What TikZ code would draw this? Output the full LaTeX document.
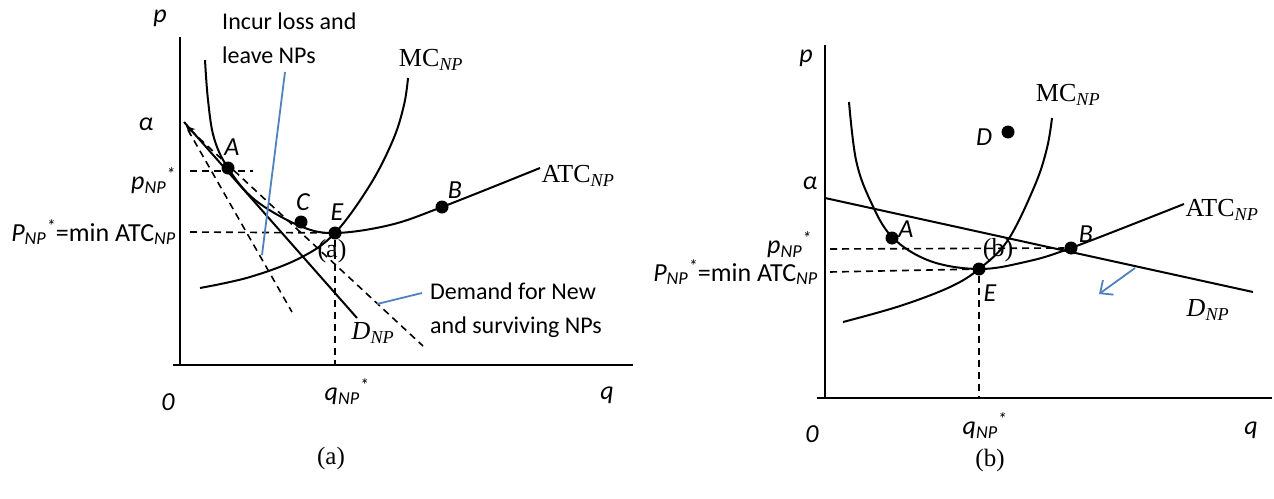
\documentclass[tikz,border=0pt]{standalone}
\usepackage{fontspec}
\setmainfont{Carlito}
\newfontfamily\tnr{Liberation Serif}
\usetikzlibrary{arrows.meta}
\definecolor{ptrblue}{HTML}{4F81BD}
\newcommand{\npsub}{\textsubscript{\textit{NP}}}

\tikzset{
  axis/.style={line width=2pt},
  curve/.style={line width=2pt},
  guide/.style={line width=1.6pt, dash pattern=on 7pt off 5pt},
  pointer/.style={ptrblue, line width=1.8pt},
  dot/.style={circle, fill=black, inner sep=0pt, minimum size=13pt},
  lbl/.style={inner sep=0pt, font=\fontsize{26}{30}\selectfont\itshape},
  note/.style={inner sep=0pt, align=left, font=\fontsize{24}{34}\selectfont},
  tlbl/.style={inner sep=0pt, font=\tnr\fontsize{26}{30}\selectfont},
  caption/.style={inner sep=0pt, font=\tnr\fontsize{25}{28}\selectfont}
}

\begin{document}
\begin{tikzpicture}[x=1pt, y=-1pt]
\useasboundingbox (0,0) rectangle (1274,498);

% ---- panel (a)
\coordinate (aTop) at (180,37);
\coordinate (aO) at (180,366);
\coordinate (aXs) at (173,365);
\coordinate (aXe) at (633,365);
\draw[axis] (aTop) -- (aO);
\draw[axis] (aXs) -- (aXe);

\node[dot] (aA) at (228,168) {};
\node[dot] (aC) at (301,222) {};
\node[dot] (aE) at (335,233) {};
\node[dot] (aB) at (442,207) {};

% cost curves
\draw[curve] plot[smooth, tension=0.6] coordinates
  {(205,60) (208,100) (214,138) (228,168) (255,200) (300,226) (335,233) (390,225) (442,207) (540,168)};
\draw[curve] plot[smooth, tension=0.6] coordinates
  {(200,288) (250,277) (300,258) (335,233) (370,185) (393,140) (404,105) (408,78)};

% demand lines
\coordinate (aD1) at (184,122);
\coordinate (aD2) at (357,318);
\coordinate (aS1) at (188,130);
\coordinate (aS2) at (292,312);
\coordinate (aN1) at (186,126);
\coordinate (aN2) at (423,346);
\draw[curve] (aD1) -- (aD2);
\draw[guide] (aS1) -- (aS2);
\draw[guide, {Stealth[length=9pt,width=8pt]}-] (aN1) -- (aN2);

% guides
\coordinate (aG1) at (190,171);
\coordinate (aG2) at (253,171);
\coordinate (aG3) at (190,232);
\coordinate (aQ) at (335,365);
\draw[guide] (aG1) -- (aG2);
\draw[guide] (aG3) -- (aE);
\draw[guide] (aE) -- (aQ);

% notes
\node[note, anchor=west] (aLoss) at (222,38) {Incur loss and\\leave NPs};
\node[note, anchor=west] (aNew) at (430,310) {Demand for New\\and surviving NPs};
\coordinate (aP1) at (285,72);
\coordinate (aP2) at (262,255);
\coordinate (aP3) at (422,293);
\coordinate (aP4) at (377,304);
\draw[pointer] (aP1) -- (aP2);
\draw[pointer] (aP3) -- (aP4);

% labels
\node[lbl] (apL) at (160,18) {p};
\node[lbl] (aalL) at (146,124) {α};
\node[lbl] (a0L) at (168,402) {0};
\node[lbl] (aqL) at (607,395) {q};
\node[lbl] (aqsL) at (347,392) {q\npsub\textsuperscript{*}};
\node[lbl, anchor=east] (apsL) at (176,181) {p\npsub\textsuperscript{*}};
\node[lbl, anchor=east] (aPmL) at (176,232) {P\npsub\textsuperscript{*}\upshape =min ATC\npsub};
\node[lbl] (aAL) at (232,147) {A};
\node[lbl] (aCL) at (303,202) {C};
\node[lbl] (aEL) at (337,212) {E};
\node[lbl] (aBL) at (455,190) {B};
\node[tlbl] (aMCL) at (431,60) {MC\textsubscript{\textit{NP}}};
\node[tlbl] (aATCL) at (578,176) {ATC\textsubscript{\textit{NP}}};
\node[tlbl] (aDL) at (373,333) {\textit{D}\textsubscript{\textit{NP}}};
\node[tlbl] (aTag) at (332,251) {(a)};
\node[caption] (aCap) at (331,458) {(a)};

% ---- panel (b)
\coordinate (bTop) at (825,45);
\coordinate (bO) at (825,399);
\coordinate (bXs) at (817,398);
\coordinate (bXe) at (1272,398);
\draw[axis] (bTop) -- (bO);
\draw[axis] (bXs) -- (bXe);

\node[dot] (bA) at (892,238) {};
\node[dot] (bE) at (979,269) {};
\node[dot] (bB) at (1071,248) {};
\node[dot] (bD) at (1008,132) {};

\draw[curve] plot[smooth, tension=0.6] coordinates
  {(849,102) (856,160) (870,200) (892,237) (930,261) (979,269) (1025,262) (1071,248) (1184,204)};
\draw[curve] plot[smooth, tension=0.6] coordinates
  {(843,322) (900,306) (950,287) (979,269) (1008,240) (1035,185) (1047,148) (1052,118)};

\coordinate (bD1) at (825,198);
\coordinate (bD2) at (1253,292);
\draw[curve] (bD1) -- (bD2);

\coordinate (bG1) at (830,249);
\coordinate (bG2) at (830,272);
\coordinate (bQ) at (979,398);
\draw[guide] (bG1) -- (bB);
\draw[guide] (bG2) -- (bE);
\draw[guide] (bE) -- (bQ);

\coordinate (bR1) at (1135,268);
\coordinate (bR2) at (1099,294);
\draw[pointer, -{Straight Barb[length=10pt,width=18pt]}] (bR1) -- (bR2);

\node[lbl] (bpL) at (806,58) {p};
\node[lbl] (balL) at (810,183) {α};
\node[lbl] (b0L) at (812,434) {0};
\node[lbl] (bqL) at (1251,430) {q};
\node[lbl] (bqsL) at (985,426) {q\npsub\textsuperscript{*}};
\node[lbl, anchor=east] (bpsL) at (812,245) {p\npsub\textsuperscript{*}};
\node[lbl, anchor=east] (bPmL) at (818,272) {P\npsub\textsuperscript{*}\upshape =min ATC\npsub};
\node[lbl] (bAL) at (906,229) {A};
\node[lbl] (bBL) at (1086,234) {B};
\node[lbl] (bEL) at (990,293) {E};
\node[lbl] (bDL) at (984,137) {D};
\node[tlbl] (bMCL) at (1068,95) {MC\textsubscript{\textit{NP}}};
\node[tlbl] (bATCL) at (1222,210) {ATC\textsubscript{\textit{NP}}};
\node[tlbl] (bDNL) at (1208,310) {\textit{D}\textsubscript{\textit{NP}}};
\node[tlbl] (bTag) at (998,250) {(b)};
\node[caption] (bCap) at (990,460) {(b)};
\end{tikzpicture}
\end{document}
